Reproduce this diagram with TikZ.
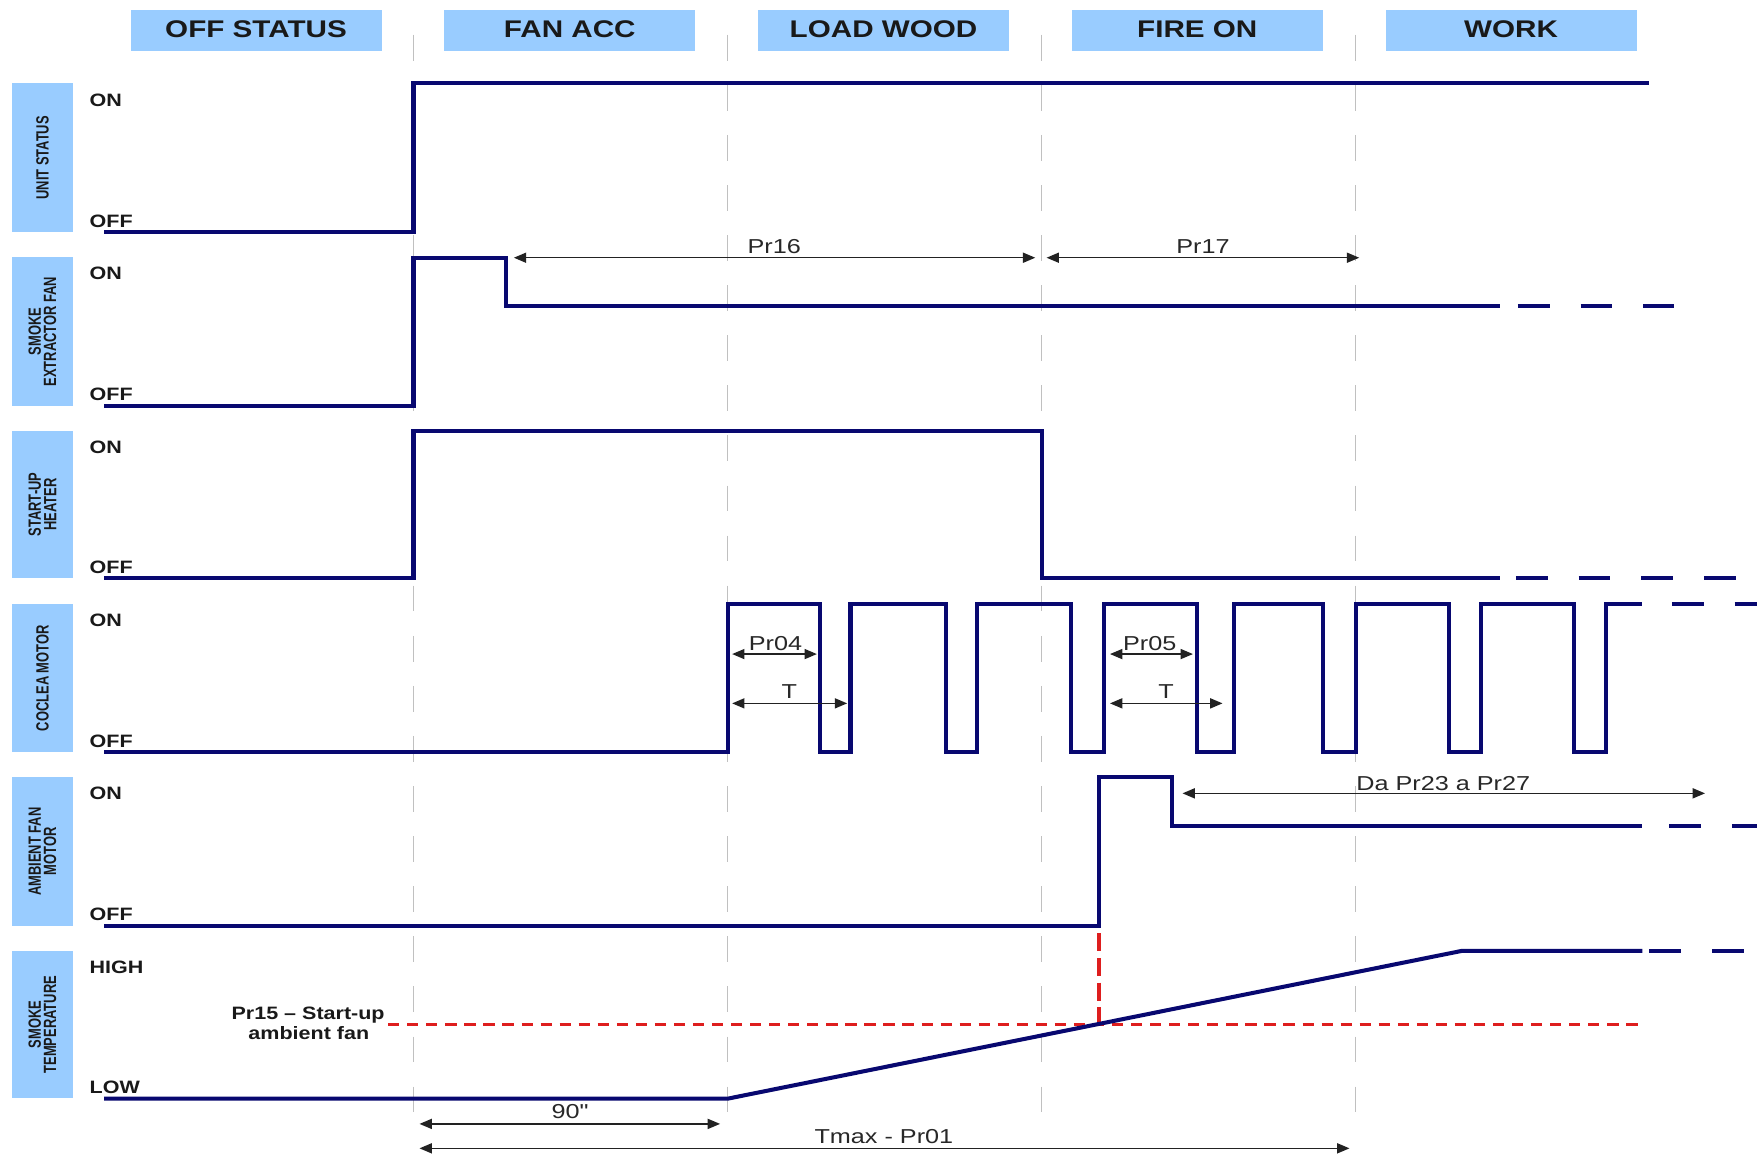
\documentclass[tikz,border=0pt]{standalone}
\usepackage{fontspec}
\usetikzlibrary{arrows.meta}
\newfontfamily\hdrfont[FakeStretch=1.23]{Liberation Sans}
\newfontfamily\lvlfont[FakeStretch=1.2]{Liberation Sans}
\newfontfamily\rowfont[FakeStretch=0.73]{Liberation Sans}
\newfontfamily\arrfont[FakeStretch=1.25]{Liberation Sans}
\definecolor{navy}{RGB}{8,8,112}
\definecolor{boxblue}{RGB}{153,204,255}
\definecolor{gridgray}{RGB}{192,192,192}
\definecolor{dimgray}{RGB}{34,34,34}
\definecolor{lbltext}{RGB}{40,40,40}
\definecolor{redline}{RGB}{222,30,30}
\tikzset{
  sig/.style={draw=navy, line width=3.6pt, line join=miter},
  sigdash/.style={sig, dash pattern=on 28.5pt off 27.5pt},
  gridline/.style={draw=gridgray, line width=1.2pt, dash pattern=on 23pt off 21.7pt},
  dim/.style={draw=dimgray, line width=1.2pt, {Triangle[length=11pt,width=9pt]}-{Triangle[length=11pt,width=9pt]}},
  hdrbox/.style={fill=boxblue, draw=none},
  hdrtext/.style={font=\hdrfont\bfseries\fontsize{21.5}{24}\selectfont, text=black!90, anchor=base, inner sep=0pt},
  rowtext/.style={font=\rowfont\bfseries\fontsize{15.8}{13.7}\selectfont, text=black!90, rotate=90, align=center, inner sep=0pt},
  lvl/.style={font=\lvlfont\bfseries\fontsize{16}{18.3}\selectfont, text=black!90, anchor=base west, inner sep=0pt},
  arrlbl/.style={font=\arrfont\fontsize{18}{20}\selectfont, text=lbltext, anchor=base, inner sep=0pt},
  reddash/.style={draw=redline, line width=3pt, dash pattern=on 10pt off 7pt},
  reddashv/.style={draw=redline, line width=3.5pt, dash pattern=on 16pt off 6pt}
}
\begin{document}
\begin{tikzpicture}[x=1pt,y=-1pt]
\useasboundingbox (0,0) rectangle (1568,1032.6);
\fill[white] (0,0) rectangle (1568,1032.6);

% vertical phase separators
\foreach \xx in {369,649.3,929.5,1209.5}
  \draw[gridline] (\xx,31) -- (\xx,994);

% header boxes
\foreach \i/\txt in {0/OFF STATUS,1/FAN ACC,2/LOAD WOOD,3/FIRE ON,4/WORK}{
  \fill[hdrbox] ({116.5+280*\i},9) rectangle ({340.5+280*\i},45.2);
  \node[hdrtext] (hdr\i) at ({228.5+280*\i},33.3) {\txt};
}

% row label boxes
\foreach \i/\top/\bot/\txt in {
  1/74.4/207.3/UNIT STATUS,
  2/229.6/362.3/SMOKE\\EXTRACTOR FAN,
  3/384.4/516.1/START-UP\\HEATER,
  4/539/671.4/COCLEA MOTOR,
  5/693.7/826.1/AMBIENT FAN\\MOTOR,
  6/848.7/980.2/SMOKE\\TEMPERATURE}{
  \fill[hdrbox] (10.4,\top) rectangle (65.4,\bot);
  \node[rowtext] (row\i) at (37.9,{(\top+\bot)/2}) {\txt};
}

% level labels
\foreach \i/\top/\bot in {1/74.4/207.3,2/229.6/362.3,3/384.4/516.1,4/539/671.4,5/693.7/826.1}{
  \node[lvl] (on\i) at (79.8,{\top+20.2}) {ON};
  \node[lvl] (off\i) at (79.8,{\bot-4.7}) {OFF};
}
\node[lvl] (high6) at (79.8,868.7) {HIGH};
\node[lvl] (low6) at (79.8,976.2) {LOW};

% red threshold
\draw[reddash] (346.4,914.2) -- (1465,914.2);
\draw[reddashv] (980.6,833) -- (980.6,914.2);
\node[lvl, anchor=base, align=center] (pr15a) at (275,909.7) {Pr15 – Start-up};
\node[lvl, anchor=base] (pr15b) at (275.6,928) {ambient fan};

% signals
\draw[sig] (93,207.3) -- (369,207.3) -- (369,74.4) -- (1471.5,74.4);

\draw[sig] (93,362) -- (369,362) -- (369,230) -- (451.8,230) -- (451.8,273.5) -- (1338.7,273.5);
\draw[sigdash] (1354.5,273.5) -- (1494,273.5);

\draw[sig] (93,516) -- (369,516) -- (369,384.4) -- (929.5,384.4) -- (929.5,516) -- (1338.7,516);
\draw[sigdash] (1352.7,516) -- (1551.5,516);

\draw[sig] (93,671.4) -- (649.3,671.4) -- (649.3,539) -- (732,539) -- (732,671.4)
  -- (759,671.4) -- (759,539) -- (844,539) -- (844,671.4)
  -- (872,671.4) -- (872,539) -- (956,539) -- (956,671.4)
  -- (985,671.4) -- (985,539) -- (1068,539) -- (1068,671.4)
  -- (1101,671.4) -- (1101,539) -- (1181,539) -- (1181,671.4)
  -- (1210,671.4) -- (1210,539) -- (1293,539) -- (1293,671.4)
  -- (1322,671.4) -- (1322,539) -- (1405,539) -- (1405,671.4)
  -- (1433,671.4) -- (1433,539) -- (1465,539);
\draw[sigdash] (1492,539) -- (1568,539);

\draw[sig] (93,826) -- (980.6,826) -- (980.6,693.7) -- (1045.5,693.7) -- (1045.5,737) -- (1465,737);
\draw[sigdash] (1489.5,737) -- (1568,737);

\draw[sig] (93,980.5) -- (649.3,980.5) -- (1305,848.5) -- (1465.6,848.5);
\draw[sigdash] (1472,848.5) -- (1556.5,848.5);

% dimension arrows
\coordinate (p16a) at (458.6,230); \coordinate (p16b) at (923.9,230);
\coordinate (p17a) at (934,230);   \coordinate (p17b) at (1213,230);
\coordinate (p04a) at (653.4,583.7); \coordinate (p04b) at (729,583.7);
\coordinate (t1a) at (653.4,627.7); \coordinate (t1b) at (756,627.7);
\coordinate (p05a) at (990.6,583.7); \coordinate (p05b) at (1064.6,583.7);
\coordinate (t2a) at (990.6,627.7); \coordinate (t2b) at (1091,627.7);
\coordinate (daa) at (1055.3,708); \coordinate (dab) at (1521.6,708);
\coordinate (n90a) at (374.4,1003); \coordinate (n90b) at (642.6,1003);
\coordinate (tma) at (374.4,1024.8); \coordinate (tmb) at (1204.3,1024.8);

\draw[dim] (p16a) -- (p16b);
\draw[dim] (p17a) -- (p17b);
\draw[dim] (p04a) -- (p04b);
\draw[dim] (t1a) -- (t1b);
\draw[dim] (p05a) -- (p05b);
\draw[dim] (t2a) -- (t2b);
\draw[dim] (daa) -- (dab);
\draw[dim] (n90a) -- (n90b);
\draw[dim] (tma) -- (tmb);

\node[arrlbl] (lp16) at (691,226) {Pr16};
\node[arrlbl] (lp17) at (1073.6,226) {Pr17};
\node[arrlbl] (lp04) at (692,580.7) {Pr04};
\node[arrlbl] (lt1) at (704.4,623.2) {T};
\node[arrlbl] (lp05) at (1026,580.7) {Pr05};
\node[arrlbl] (lt2) at (1040.6,623.2) {T};
\node[arrlbl] (lda) at (1288,705.6) {Da Pr23 a Pr27};
\node[arrlbl] (l90) at (508.7,998) {90"};
\node[arrlbl] (ltm) at (788.8,1020.4) {Tmax - Pr01};
\end{tikzpicture}
\end{document}
